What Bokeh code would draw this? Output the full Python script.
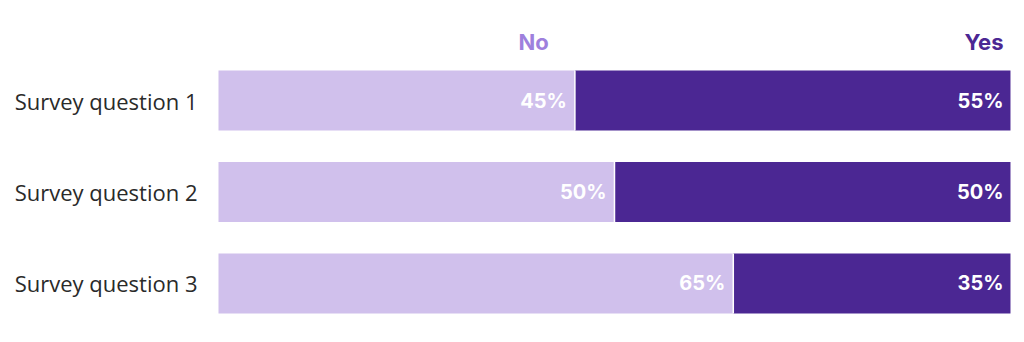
from bokeh.plotting import figure
from bokeh.models import Range1d, ColumnDataSource
from bokeh.core.properties import value
from bokeh.embed import file_html
from bokeh.resources import INLINE

questions = ["Survey question 1", "Survey question 2", "Survey question 3"]
no_vals = [45, 50, 65]
yes_vals = [55, 50, 35]
series_names = ["No", "Yes"]

LIGHT = "#D0C0EC"
DARK = "#4B2793"
NO_HEAD = "#9E80DD"

idx = list(range(len(questions)))
no_end = no_vals
yes_end = [n + y for n, y in zip(no_vals, yes_vals)]

p = figure(width=1024, height=342, output_backend="svg", toolbar_location=None,
           x_range=Range1d(-27.525, 101.77), y_range=Range1d(2.645, -1.093),
           min_border=0, min_border_left=0, min_border_right=0,
           min_border_top=0, min_border_bottom=0)
p.axis.visible = False
p.grid.visible = False
p.outline_line_color = None
p.background_fill_color = "white"

src = ColumnDataSource(dict(y=idx, q=questions, no=no_vals, yes=yes_vals,
                            no_end=no_end, yes_end=yes_end,
                            no_lab=[f"{v}%" for v in no_vals],
                            yes_lab=[f"{v}%" for v in yes_vals],
                            zero=[0] * len(idx),
                            y0=[i - 0.328 for i in idx], y1=[i + 0.328 for i in idx]))

p.hbar(y="y", left="zero", right="no_end", height=0.656, source=src,
       fill_color=LIGHT, line_color=None)
p.hbar(y="y", left="no_end", right="yes_end", height=0.656, source=src,
       fill_color=DARK, line_color=None)
p.segment(x0="no_end", x1="no_end", y0="y0", y1="y1",
          line_color="white", line_width=1.5, source=src)

p.text(x=-2.65, y="y", text="q", source=src, text_align="right", text_baseline="middle",
       text_font=value("Open Sans"), text_font_size="22px", text_color="#2a2a2a")
p.text(x="no_end", y="y", text="no_lab", source=src, text_align="right", text_baseline="middle",
       x_offset=-8, text_font=value("Inter"), text_font_style="bold",
       text_font_size="20px", text_color="white")
p.text(x="yes_end", y="y", text="yes_lab", source=src, text_align="right", text_baseline="middle",
       x_offset=-7, text_font=value("Inter"), text_font_style="bold",
       text_font_size="20px", text_color="white")

p.text(x=[41.7], y=[-0.64], text=[series_names[0]], text_align="right", text_baseline="middle",
       text_font=value("Inter"), text_font_style="bold", text_font_size="22px", text_color=NO_HEAD)
p.text(x=[100], y=[-0.64], text=[series_names[1]], text_align="right", text_baseline="middle",
       x_offset=-7, text_font=value("Inter"), text_font_style="bold", text_font_size="22px",
       text_color=DARK)

open("out.html", "w").write(file_html(p, INLINE))
